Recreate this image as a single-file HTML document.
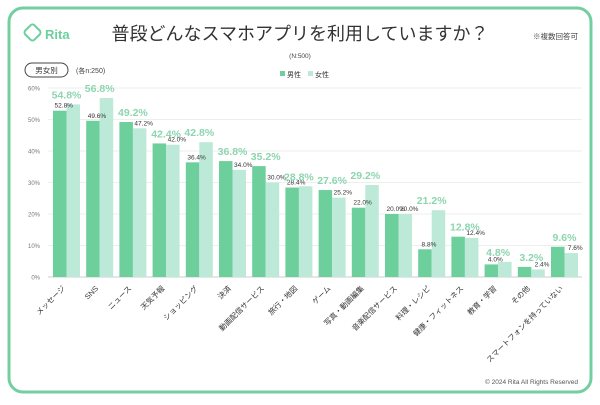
<!DOCTYPE html>
<html><head><meta charset="utf-8"><style>
body{margin:0;background:#fff;width:600px;height:400px;overflow:hidden;font-family:"Liberation Sans","Noto Sans CJK JP",sans-serif}
</style></head><body>
<svg id="c" width="600" height="400" xmlns="http://www.w3.org/2000/svg">
<rect x="9" y="8" width="582" height="384" rx="14" fill="#fff" stroke="#74cfa0" stroke-width="3"/>
<g>
<rect x="26" y="26" width="13" height="13" rx="3" transform="rotate(45 32.5 32.5)" fill="none" stroke="#6ccf9c" stroke-width="2"/>
<text x="45" y="39" font-size="13" font-weight="bold" fill="#6ccf9c">Rita</text></g>
<text x="300" y="40" font-size="18" text-anchor="middle" fill="#333">普段どんなスマホアプリを利用していますか？</text>
<text x="578" y="39" font-size="7.5" text-anchor="end" fill="#444">※複数回答可</text>
<text x="300" y="58" font-size="6.5" text-anchor="middle" fill="#444">(N:500)</text>
<rect x="25" y="63" width="43" height="14" rx="7" fill="#fff" stroke="#444"/>
<text x="46.5" y="73" font-size="7.5" text-anchor="middle" fill="#333">男女別</text>
<text x="76" y="73" font-size="7" fill="#444">(各n:250)</text>
<g>
<rect x="280" y="71" width="5" height="5" fill="#6ccf9c"/>
<text x="287" y="77" font-size="7" fill="#333">男性</text>
<rect x="308" y="71" width="5" height="5" fill="#bde9d8"/>
<text x="315" y="77" font-size="7" fill="#333">女性</text></g>
<g id="grid"></g><g id="bars"></g><g id="labels"></g>
<text x="578" y="384" font-size="6.5" text-anchor="end" fill="#555">© 2024 Rita All Rights Reserved</text>
</svg>
<script>
const categories=["メッセージ","SNS","ニュース","天気予報","ショッピング","決済","動画配信サービス","旅行・地図","ゲーム","写真・動画編集","音楽配信サービス","料理・レシピ","健康・フィットネス","教育・学習","その他","スマートフォンを持っていない"];
const maleValues=[52.8,49.6,49.2,42.4,36.4,36.8,35.2,28.4,27.6,22.0,20.0,8.8,12.8,4.0,3.2,9.6];
const femaleValues=[54.8,56.8,47.2,42.0,42.8,34.0,30.0,28.8,25.2,29.2,20.0,21.2,12.4,4.8,2.4,7.6];
const yTicks=[0,10,20,30,40,50,60];
const NS="http://www.w3.org/2000/svg";
const y0=277,yTop=88,x0=53,step=33.2,bw=13.5;
const y=v=>y0-(v/60)*(y0-yTop);
const gx=i=>x0+i*step;
function mk(t,a,p){const e=document.createElementNS(NS,t);for(const k in a)e.setAttribute(k,a[k]);p.appendChild(e);return e;}
const grid=document.getElementById('grid'),bars=document.getElementById('bars'),labels=document.getElementById('labels');
yTicks.forEach(t=>{
 const l=mk('line',{x1:48,x2:582,y1:y(t),y2:y(t),stroke:t===0?'#ccc':'#eee','stroke-width':1},grid);
 
 
 const tx=mk('text',{x:40,y:y(t)+2.5,'font-size':6,fill:'#777','text-anchor':'end'},grid);
 tx.textContent=t+'%';
 
 
});
categories.forEach((c,i)=>{
 const m=maleValues[i],f=femaleValues[i],x=gx(i);
 const rm=mk('rect',{x:x,y:y(m),width:bw,height:y0-y(m),fill:'#6ccf9c'},bars);
 
 
 const rf=mk('rect',{x:x+bw,y:y(f),width:bw,height:y0-y(f),fill:'#bde9d8'},bars);
 
 
 const vals=[[m,x+bw/2],[f,x+bw*1.5]];
 const hi=m>f?0:(f>m?1:-1);
 vals.forEach((v,j)=>{
  let t;
  if(j===hi){t=mk('text',{x:x+bw,y:y(v[0])-6,'font-size':10.5,'font-weight':'bold',fill:'#8dd5b0','text-anchor':'middle'},labels);}
  else{t=mk('text',{x:v[1]+4,y:y(v[0])-3,'font-size':6.5,fill:'#333','text-anchor':'middle'},labels);}
  t.textContent=v[0].toFixed(1)+'%';
  
  
 });
 const cx=x+bw-1,cy=289;
 const lt=mk('text',{x:cx,y:cy,'font-size':7.5,fill:'#333','text-anchor':'end',transform:`rotate(-45 ${cx} ${cy})`},labels);
 lt.textContent=c;
 
 
});
</script>
</body></html>
